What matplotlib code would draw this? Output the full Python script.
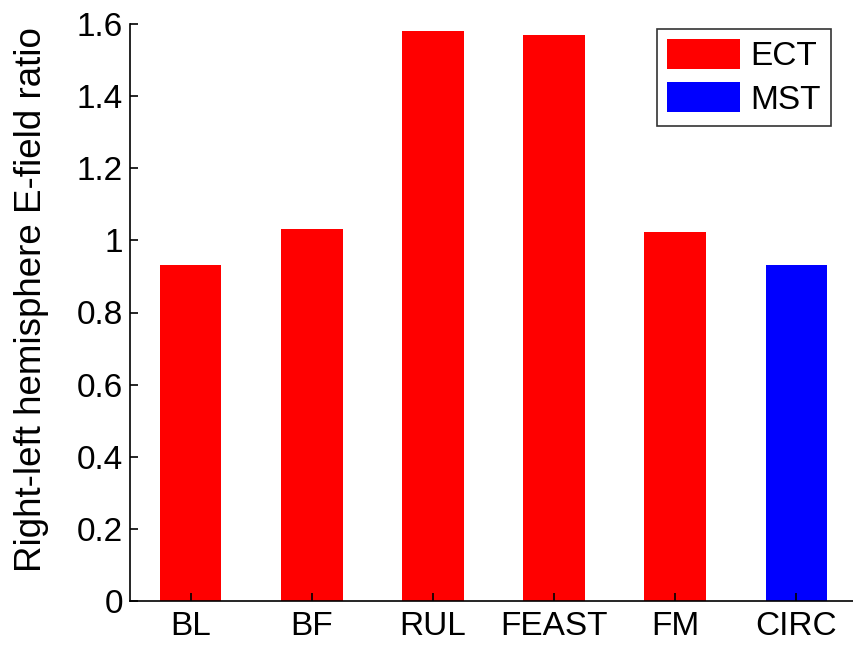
import matplotlib.pyplot as plt
from matplotlib.patches import Patch

plt.rcParams['font.family'] = ['Liberation Sans', 'DejaVu Sans']

# values
labels = ['BL', 'BF', 'RUL', 'FEAST', 'FM', 'CIRC']
ratios = [0.932, 1.032, 1.581, 1.570, 1.024, 0.932]
groups = ['ECT', 'ECT', 'ECT', 'ECT', 'ECT', 'MST']
group_colors = {'ECT': '#ff0000', 'MST': '#0000ff'}
yticks = [0, 0.2, 0.4, 0.6, 0.8, 1.0, 1.2, 1.4, 1.6]
ytick_labels = ['0', '0.2', '0.4', '0.6', '0.8', '1', '1.2', '1.4', '1.6']

fig = plt.figure(figsize=(8.54, 6.47), dpi=100)
ax = fig.add_axes([130 / 854, 46 / 647, 727 / 854, 577 / 647])

x = range(1, len(labels) + 1)
ax.bar(x, ratios, width=0.51, color=[group_colors[g] for g in groups])

ax.set_xlim(0.5, 6.5)
ax.set_ylim(0, 1.6)
ax.set_xticks(list(x))
ax.set_xticklabels(labels, fontsize=24)
ax.set_yticks(yticks)
ax.set_yticklabels(ytick_labels, fontsize=24)
ax.tick_params(direction='in', length=6, width=1.2)
ax.tick_params(axis='x', pad=7)
ax.tick_params(axis='y', pad=5)
ax.set_ylabel('Right-left hemisphere E-field ratio', fontsize=26.5)
ax.yaxis.set_label_coords(-0.112, 0.523)

ax.spines['top'].set_visible(False)
ax.spines['right'].set_visible(False)
ax.spines['left'].set_linewidth(1.2)
ax.spines['bottom'].set_linewidth(1.2)

handles = [Patch(facecolor=group_colors[g], edgecolor='none', label=g) for g in ['ECT', 'MST']]
leg = ax.legend(handles=handles, loc='upper right', bbox_to_anchor=(831 / 854, 1 - 29 / 647),
                bbox_transform=fig.transFigure, fontsize=24, handlelength=2.2, handleheight=1.0,
                handletextpad=0.3, borderpad=0.3, labelspacing=0.3, fancybox=False,
                borderaxespad=0)
leg.get_frame().set_edgecolor('black')
leg.get_frame().set_linewidth(1.2)

fig.savefig('out.png', dpi=100)
